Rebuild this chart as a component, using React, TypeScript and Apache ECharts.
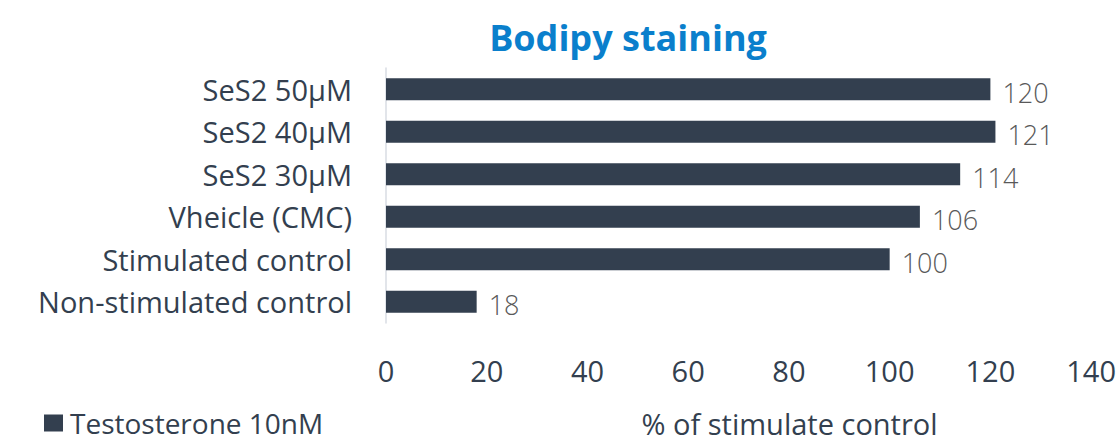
import React, { useEffect, useRef } from "react";
import * as echarts from "echarts";

const categories = [
  "Non-stimulated control",
  "Stimulated control",
  "Vheicle (CMC)",
  "SeS2 30µM",
  "SeS2 40µM",
  "SeS2 50µM",
];
const values = [18, 100, 106, 114, 121, 120];
const seriesName = "Testosterone 10nM";
const titleText = "Bodipy staining";
const xAxisName = "% of stimulate control";

export default function App() {
  const ref = useRef<HTMLDivElement>(null);
  useEffect(() => {
    if (!ref.current) return;
    const chart = echarts.init(ref.current, null, { renderer: "svg" });
    const font = "Open Sans";
    chart.setOption({
      animation: false,
      textStyle: { fontFamily: font },
      title: {
        text: titleText,
        left: 623,
        top: 14,
        textAlign: "center",
        textStyle: { color: "#0a7fcc", fontSize: 36, fontWeight: "bold", fontFamily: font },
      },
      legend: {
        data: [seriesName],
        left: 44,
        top: 408,
        padding: 0,
        icon: "rect",
        itemWidth: 19,
        itemHeight: 17,
        itemGap: 8,
        textStyle: { color: "#333f4f", fontSize: 28, lineHeight: 30, fontFamily: font, padding: [0, 0, 0, 2] },
      },
      grid: { left: 386, right: 22, top: 68, bottom: 124, containLabel: false },
      xAxis: {
        type: "value",
        min: 0,
        max: 140,
        interval: 20,
        splitLine: { show: false },
        axisLine: { show: false },
        axisTick: { show: false },
        axisLabel: { color: "#333f4f", fontSize: 29, margin: 33, fontFamily: font },
        name: xAxisName,
        nameLocation: "middle",
        nameGap: 86,
        nameTextStyle: { color: "#333f4f", fontSize: 29, fontFamily: font, padding: [0, 0, 0, 102] },
      },
      yAxis: {
        type: "category",
        data: categories,
        axisLine: { show: true, lineStyle: { color: "#d9dde3", width: 1.5 } },
        axisTick: { show: false },
        axisLabel: { color: "#333f4f", fontSize: 29, margin: 34, fontFamily: font },
      },
      series: [
        {
          name: seriesName,
          type: "bar",
          data: values,
          barWidth: 22,
          itemStyle: { color: "#333f4f" },
          label: {
            show: true,
            position: "right",
            distance: 12,
            color: "#595959",
            fontSize: 27,
            fontWeight: 300,
            fontFamily: font,
            offset: [0, 3],
          },
        },
      ],
    });
    return () => chart.dispose();
  }, []);
  return <div ref={ref} style={{ width: 1119, height: 447, position: "absolute", left: 0, top: 0 }} />;
}
